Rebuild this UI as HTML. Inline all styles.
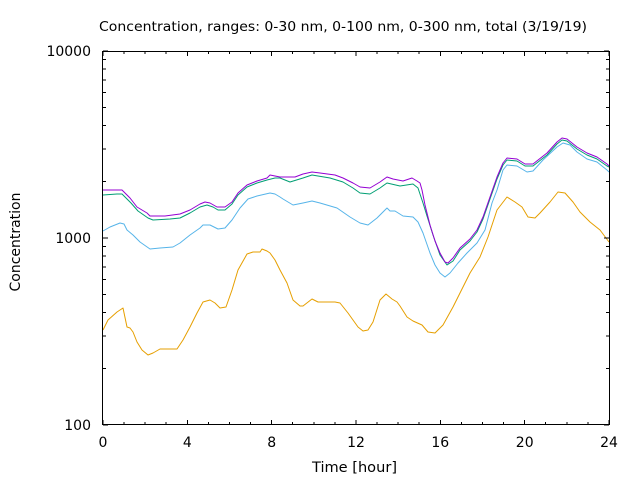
<!DOCTYPE html>
<html><head><meta charset="utf-8"><style>
html,body{margin:0;padding:0;background:#fff;}
svg{display:block;}
text{font-family:"DejaVu Sans","Liberation Sans",sans-serif;fill:#000;}
</style></head><body>
<svg width="640" height="480" viewBox="0 0 640 480" xmlns="http://www.w3.org/2000/svg">
<rect x="0" y="0" width="640" height="480" fill="#fff"/>
<g fill="none" stroke-width="1" stroke-linejoin="round">
<polyline stroke="#e69f00" points="103,330 108,320 117,312 123,308 127,327 130,328 133,332 137,342 142,350 148,355 153,353 160,349 177,349 183,340 190,327 197,313 203,302 210,300 215,303 220,308 226,307 232,290 238,270 247,254 253,252 260,252 262,249 267,251 270,253 275,260 280,270 287,283 293,300 300,306 303,306 312,299 318,302 335,302 340,303 348,313 358,327 363,331 368,330 373,322 380,300 386,294 392,299 397,302 400,306 407,317 413,321 422,325 428,332 435,333 443,325 453,307 460,293 470,273 480,257 488,237 497,210 507,197 515,202 522,207 528,217 535,218 540,213 550,202 558,192 565,193 573,202 580,212 590,222 600,230 609,242"/>
<polyline stroke="#56b4e9" points="103,231 110,227 120,223 124,224 127,230 133,235 140,242 150,249 160,248 173,247 180,243 190,235 200,228 203,225 210,225 218,229 225,228 232,220 240,208 248,199 257,196 270,193 275,194 280,197 283,199 293,205 303,203 312,201 320,203 337,208 350,217 360,223 368,225 377,218 387,208 390,211 395,211 403,216 413,217 418,222 423,233 430,253 435,265 440,273 445,277 450,273 458,263 467,253 477,243 485,230 492,203 497,190 503,170 507,165 517,166 527,172 533,171 543,160 557,147 563,143 570,145 577,152 587,159 597,162 607,170 609,172"/>
<polyline stroke="#009e73" points="103,195 117,194 122,194 126,198 131,203 138,211 148,218 153,220 170,219 180,218 190,213 200,207 207,205 213,207 218,210 225,210 232,204 238,195 247,187 257,183 267,180 275,178 280,178 290,182 303,178 312,175 330,178 343,182 353,188 360,193 370,194 380,188 387,183 400,186 413,184 418,188 423,203 427,216 433,235 440,255 447,265 453,261 460,250 470,241 477,232 483,219 490,199 497,179 503,165 507,160 517,161 525,166 533,166 547,155 557,144 562,140 567,141 577,149 587,155 597,159 607,166 609,167"/>
<polyline stroke="#9400d3" points="103,190 122,190 125,193 130,198 137,207 147,213 150,216 165,216 180,214 190,210 200,204 205,202 210,203 217,207 225,207 232,202 238,193 247,185 257,181 267,178 270,175 280,177 295,177 303,174 312,172 320,173 335,175 343,178 353,183 360,187 370,188 380,182 387,177 393,179 403,181 412,178 417,181 420,183 422,190 425,205 430,225 435,241 440,253 445,262 448,263 453,258 460,248 470,239 477,230 483,217 490,197 497,177 503,163 507,158 517,159 525,164 533,164 547,153 557,142 562,138 567,139 577,147 587,153 597,157 607,164 609,166"/>
</g>
<g stroke="#000" stroke-width="1" fill="none" shape-rendering="crispEdges">
<rect x="102.5" y="51.5" width="507" height="373"/>
<path d="
M103,425 v-5 M103,51 v5
M124.1,425 v-3 M124.1,51 v3
M145.2,425 v-3 M145.2,51 v3
M166.2,425 v-3 M166.2,51 v3
M187.3,425 v-5 M187.3,51 v5
M208.4,425 v-3 M208.4,51 v3
M229.5,425 v-3 M229.5,51 v3
M250.6,425 v-3 M250.6,51 v3
M271.7,425 v-5 M271.7,51 v5
M292.7,425 v-3 M292.7,51 v3
M313.8,425 v-3 M313.8,51 v3
M334.9,425 v-3 M334.9,51 v3
M356,425 v-5 M356,51 v5
M377.1,425 v-3 M377.1,51 v3
M398.2,425 v-3 M398.2,51 v3
M419.2,425 v-3 M419.2,51 v3
M440.3,425 v-5 M440.3,51 v5
M461.4,425 v-3 M461.4,51 v3
M482.5,425 v-3 M482.5,51 v3
M503.6,425 v-3 M503.6,51 v3
M524.7,425 v-5 M524.7,51 v5
M545.7,425 v-3 M545.7,51 v3
M566.8,425 v-3 M566.8,51 v3
M587.9,425 v-3 M587.9,51 v3
M609,425 v-5 M609,51 v5
M103,425 h5 M609,425 h-5
M103,238 h5 M609,238 h-5
M103,51 h5 M609,51 h-5
M103,368.7 h3 M609,368.7 h-3
M103,335.8 h3 M609,335.8 h-3
M103,312.4 h3 M609,312.4 h-3
M103,294.3 h3 M609,294.3 h-3
M103,279.5 h3 M609,279.5 h-3
M103,267 h3 M609,267 h-3
M103,256.1 h3 M609,256.1 h-3
M103,246.6 h3 M609,246.6 h-3
M103,181.7 h3 M609,181.7 h-3
M103,148.8 h3 M609,148.8 h-3
M103,125.4 h3 M609,125.4 h-3
M103,107.3 h3 M609,107.3 h-3
M103,92.5 h3 M609,92.5 h-3
M103,80 h3 M609,80 h-3
M103,69.1 h3 M609,69.1 h-3
M103,59.6 h3 M609,59.6 h-3
"/>
</g>
<g font-size="14" text-anchor="end">
<text x="91" y="56">10000</text>
<text x="91" y="243">1000</text>
<text x="91" y="430">100</text>
</g>
<g font-size="14" text-anchor="middle">
<text x="103" y="447">0</text>
<text x="187.3" y="447">4</text>
<text x="271.7" y="447">8</text>
<text x="356" y="447">12</text>
<text x="440.3" y="447">16</text>
<text x="524.7" y="447">20</text>
<text x="609" y="447">24</text>
</g>
<text x="312" y="472" font-size="14" textLength="85" lengthAdjust="spacingAndGlyphs">Time [hour]</text>
<text transform="translate(20,242) rotate(-90)" font-size="14" text-anchor="middle" textLength="99" lengthAdjust="spacingAndGlyphs">Concentration</text>
<text x="99" y="31" font-size="13.5" textLength="488" lengthAdjust="spacingAndGlyphs">Concentration, ranges: 0-30 nm, 0-100 nm, 0-300 nm, total (3/19/19)</text>
</svg>
</body></html>
